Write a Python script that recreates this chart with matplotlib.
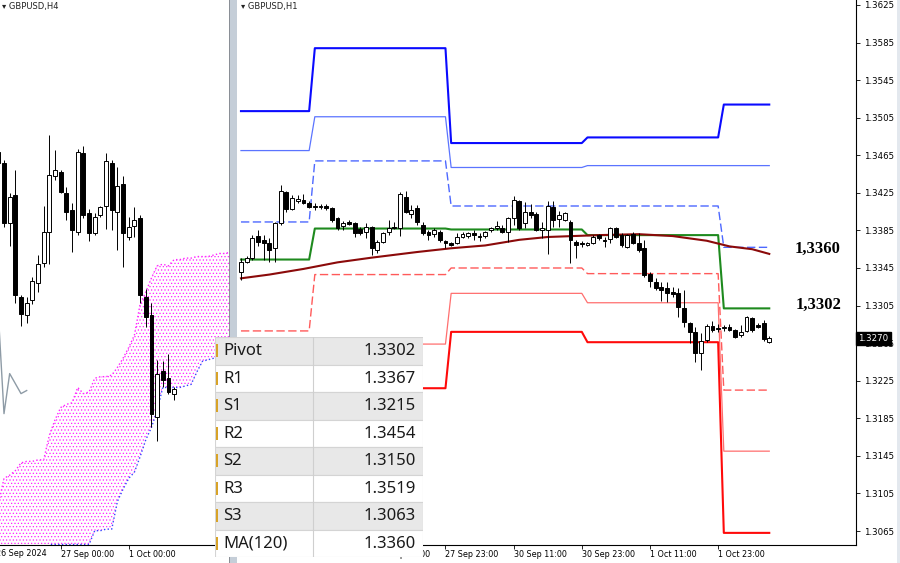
import numpy as np
import matplotlib.pyplot as plt
from matplotlib.patches import Rectangle
from matplotlib.transforms import blended_transform_factory

W, H = 900, 563

# ---- GBPUSD H1: one bar per hour, 26 Sep 11:00 .. 2 Oct 08:00
h1_open = [1.3341, 1.3351, 1.3356, 1.3379, 1.3375, 1.3372, 1.3366, 1.3393, 1.3426, 1.3408,
           1.3416, 1.3417, 1.3414, 1.3411, 1.3410, 1.3411, 1.3409, 1.3398, 1.3390, 1.3394,
           1.3393, 1.3387, 1.3383, 1.3389, 1.3364, 1.3373, 1.3383, 1.3389, 1.3388, 1.3421,
           1.3402, 1.3409, 1.3391, 1.3383, 1.3381, 1.3383, 1.3374, 1.3372, 1.3372, 1.3378,
           1.3379, 1.3382, 1.3379, 1.3379, 1.3385, 1.3388, 1.3388, 1.3383, 1.3398, 1.3416,
           1.3393, 1.3405, 1.3402, 1.3385, 1.3385, 1.3410, 1.3397, 1.3396, 1.3394, 1.3373,
           1.3372, 1.3369, 1.3372, 1.3380, 1.3375, 1.3376, 1.3388, 1.3380, 1.3367, 1.3381,
           1.3372, 1.3366, 1.3339, 1.3330, 1.3325, 1.3324, 1.3319, 1.3318, 1.3302, 1.3286,
           1.3277, 1.3255, 1.3268, 1.3283, 1.3281, 1.3281, 1.3282, 1.3279, 1.3274, 1.3278,
           1.3292, 1.3284, 1.3286, 1.3266]
h1_high = [1.3356, 1.3358, 1.3380, 1.3385, 1.3380, 1.3377, 1.3394, 1.3433, 1.3427, 1.3423,
           1.3423, 1.3424, 1.3416, 1.3414, 1.3413, 1.3413, 1.3410, 1.3399, 1.3395, 1.3396,
           1.3394, 1.3389, 1.3393, 1.3390, 1.3375, 1.3383, 1.3396, 1.3394, 1.3426, 1.3427,
           1.3412, 1.3412, 1.3394, 1.3385, 1.3388, 1.3385, 1.3375, 1.3373, 1.3382, 1.3383,
           1.3383, 1.3385, 1.3382, 1.3384, 1.3389, 1.3395, 1.3391, 1.3399, 1.3422, 1.3417,
           1.3415, 1.3413, 1.3405, 1.3394, 1.3416, 1.3416, 1.3406, 1.3405, 1.3396, 1.3375,
           1.3374, 1.3373, 1.3380, 1.3381, 1.3378, 1.3389, 1.3389, 1.3382, 1.3381, 1.3383,
           1.3382, 1.3375, 1.3341, 1.3334, 1.3330, 1.3330, 1.3325, 1.3324, 1.3322, 1.3287,
           1.3282, 1.3276, 1.3285, 1.3289, 1.3285, 1.3284, 1.3285, 1.3280, 1.3284, 1.3294,
           1.3293, 1.3286, 1.3290, 1.3273]
h1_low = [1.3332, 1.3350, 1.3354, 1.3368, 1.3354, 1.3351, 1.3351, 1.3391, 1.3405, 1.3407,
          1.3414, 1.3413, 1.3409, 1.3407, 1.3408, 1.3407, 1.3394, 1.3385, 1.3385, 1.3391,
          1.3378, 1.3380, 1.3377, 1.3359, 1.3361, 1.3372, 1.3380, 1.3387, 1.3379, 1.3404,
          1.3398, 1.3391, 1.3380, 1.3375, 1.3378, 1.3373, 1.3366, 1.3368, 1.3371, 1.3377,
          1.3377, 1.3375, 1.3374, 1.3377, 1.3383, 1.3385, 1.3382, 1.3373, 1.3391, 1.3385,
          1.3388, 1.3398, 1.3384, 1.3377, 1.3360, 1.3389, 1.3389, 1.3395, 1.3350, 1.3356,
          1.3367, 1.3368, 1.3371, 1.3375, 1.3367, 1.3372, 1.3377, 1.3367, 1.3366, 1.3371,
          1.3362, 1.3335, 1.3325, 1.3322, 1.3310, 1.3309, 1.3314, 1.3293, 1.3282, 1.3265,
          1.3245, 1.3236, 1.3266, 1.3277, 1.3277, 1.3278, 1.3278, 1.3270, 1.3272, 1.3277,
          1.3277, 1.3281, 1.3267, 1.3265]
h1_close = [1.3351, 1.3356, 1.3377, 1.3373, 1.3372, 1.3364, 1.3393, 1.3427, 1.3408, 1.3420,
            1.3418, 1.3414, 1.3410, 1.3410, 1.3411, 1.3409, 1.3396, 1.3388, 1.3393, 1.3392,
            1.3382, 1.3382, 1.3389, 1.3366, 1.3373, 1.3382, 1.3388, 1.3388, 1.3424, 1.3405,
            1.3407, 1.3394, 1.3382, 1.3380, 1.3385, 1.3375, 1.3372, 1.3369, 1.3378, 1.3381,
            1.3382, 1.3380, 1.3378, 1.3383, 1.3388, 1.3390, 1.3383, 1.3398, 1.3417, 1.3388,
            1.3405, 1.3401, 1.3385, 1.3388, 1.3411, 1.3396, 1.3401, 1.3404, 1.3375, 1.3369,
            1.3371, 1.3372, 1.3378, 1.3377, 1.3374, 1.3388, 1.3378, 1.3369, 1.3380, 1.3372,
            1.3364, 1.3338, 1.3331, 1.3324, 1.3322, 1.3318, 1.3317, 1.3303, 1.3287, 1.3277,
            1.3255, 1.3267, 1.3283, 1.3279, 1.3280, 1.3282, 1.3279, 1.3272, 1.3277, 1.3293,
            1.3279, 1.3282, 1.3269, 1.3270]
h1_tick_bars = [24, 36, 48, 60, 72, 84]
h1_tick_labels = ['27 Sep 11:00', '27 Sep 23:00', '30 Sep 11:00', '30 Sep 23:00',
                  '1 Oct 11:00', '1 Oct 23:00']

# daily pivot levels (bar index where each day starts)
day_start = [0, 13, 37, 61, 85]
piv_r3 = [1.3512, 1.3579, 1.3478, 1.3484, 1.3519]
piv_r2 = [1.3470, 1.3506, 1.3452, 1.3454, 1.3454]
piv_r1 = [1.3394, 1.3459, 1.3411, 1.3411, 1.3367]
piv_pp = [1.3354, 1.3387, 1.3386, 1.3380, 1.3302]
piv_s1 = [1.3278, 1.3338, 1.3345, 1.3339, 1.3215]
piv_s2 = [1.3205, 1.3264, 1.3318, 1.3308, 1.3150]
piv_s3 = [1.3157, 1.3217, 1.3277, 1.3266, 1.3063]

ma_bars = [0, 5, 11, 17, 23, 31, 37, 43, 49, 54, 63, 70, 76, 82, 86, 90, 93]
ma_vals = [1.3334, 1.3338, 1.3344, 1.3351, 1.3356, 1.3362, 1.3366, 1.3369, 1.3375,
           1.3378, 1.3380, 1.3381, 1.3379, 1.3374, 1.3368, 1.3365, 1.3360]

price_ticks = [1.3625, 1.3585, 1.3545, 1.3505, 1.3465, 1.3425, 1.3385, 1.3345,
               1.3305, 1.3265, 1.3225, 1.3185, 1.3145, 1.3105, 1.3065]
last_price = 1.3270

# ---- GBPUSD H4 (left window)
h4_open = [1.3424, 1.3417, 1.3378, 1.3396, 1.3330, 1.3318, 1.3328, 1.3339, 1.3352, 1.3372,
           1.3408, 1.3411, 1.3397, 1.3386, 1.3372, 1.3423, 1.3384, 1.3371, 1.3383, 1.3389,
           1.3417, 1.3385, 1.3403, 1.3369, 1.3376, 1.3381, 1.3330, 1.3318, 1.3252, 1.3282,
           1.3277, 1.3267]
h4_high = [1.3425, 1.3419, 1.3397, 1.3412, 1.3331, 1.3330, 1.3343, 1.3357, 1.3389, 1.3435,
           1.3425, 1.3412, 1.3401, 1.3391, 1.3426, 1.3428, 1.3387, 1.3384, 1.3389, 1.3423,
           1.3419, 1.3414, 1.3408, 1.3382, 1.3388, 1.3383, 1.3335, 1.3326, 1.3289, 1.3288,
           1.3293, 1.3271]
h4_low = [1.3414, 1.3375, 1.3363, 1.3326, 1.3311, 1.3313, 1.3325, 1.3333, 1.3349, 1.3351,
          1.3406, 1.3397, 1.3380, 1.3359, 1.3370, 1.3381, 1.3366, 1.3370, 1.3382, 1.3374,
          1.3373, 1.3360, 1.3349, 1.3367, 1.3369, 1.3326, 1.3310, 1.3245, 1.3236, 1.3271,
          1.3267, 1.3263]
h4_close = [1.3417, 1.3378, 1.3395, 1.3331, 1.3319, 1.3326, 1.3340, 1.3351, 1.3372, 1.3409,
            1.3412, 1.3398, 1.3385, 1.3373, 1.3424, 1.3383, 1.3371, 1.3382, 1.3388, 1.3418,
            1.3386, 1.3402, 1.3371, 1.3375, 1.3380, 1.3331, 1.3317, 1.3254, 1.3280, 1.3276,
            1.3268, 1.3270]
cloud_upper = [1.3195, 1.3212, 1.3214, 1.3217, 1.3222, 1.3223, 1.3223, 1.3224, 1.3224, 1.3240,
               1.3250, 1.3258, 1.3260, 1.3261, 1.3271, 1.3267, 1.3268, 1.3277, 1.3278, 1.3278,
               1.3279, 1.3284, 1.3290, 1.3297, 1.3305, 1.3325, 1.3333, 1.3342, 1.3350, 1.3351,
               1.3350, 1.3354, 1.3354, 1.3355, 1.3355, 1.3356, 1.3356, 1.3356, 1.3357, 1.3358,
               1.3358, 1.3359]
cloud_lower = [1.3159, 1.3159, 1.3159, 1.3159, 1.3159, 1.3159, 1.3159, 1.3159, 1.3159, 1.3169,
               1.3169, 1.3169, 1.3169, 1.3169, 1.3169, 1.3169, 1.3169, 1.3178, 1.3178, 1.3179,
               1.3179, 1.3197, 1.3205, 1.3212, 1.3216, 1.3226, 1.3237, 1.3245, 1.3256, 1.3271,
               1.3271, 1.3271, 1.3271, 1.3272, 1.3273, 1.3281, 1.3288, 1.3289, 1.3290, 1.3291,
               1.3291, 1.3291]
chikou_bars = [0, 1, 2, 4, 5]
chikou_vals = [1.3319, 1.3254, 1.3280, 1.3267, 1.3269]
h4_tick_bars = [11, 23]
h4_tick_labels = ['27 Sep 00:00', '1 Oct 00:00']

# ---- levels table
level_names = ['Pivot', 'R1', 'S1', 'R2', 'S2', 'R3', 'S3', 'MA(120)']
level_values = [1.3302, 1.3367, 1.3215, 1.3454, 1.3150, 1.3519, 1.3063, 1.3360]


def fx(x):
    return x / W


def fy(y):
    return 1 - y / H


def candles(ax, o, h, l, c, width=0.68, lw=0.7):
    o, h, l, c = (np.asarray(a) for a in (o, h, l, c))
    x = np.arange(len(o))
    ax.vlines(x, l, h, color='black', lw=lw, zorder=3)
    up = c >= o
    bottom = np.minimum(o, c)
    height = np.maximum(np.abs(c - o), 0.00002)
    ax.bar(x[up], height[up], width, bottom[up], facecolor='white',
           edgecolor='black', lw=lw, zorder=4)
    ax.bar(x[~up], height[~up], width, bottom[~up], facecolor='black',
           edgecolor='black', lw=lw, zorder=4)


plt.rcParams['hatch.linewidth'] = 0.5

fig = plt.figure(figsize=(9, 5.63), dpi=100)
fig.patch.set_facecolor('white')

# ================= right window: H1 =================
axr = fig.add_axes([fx(237), fy(545), fx(856) - fx(237), 545 / H])
axr.set_xlim(-0.7, 108.27)
axr.set_ylim(1.30501, 1.36303)

candles(axr, h1_open, h1_high, h1_low, h1_close)

bars = np.arange(len(h1_open))
day_len = np.diff(day_start + [len(h1_open)])
levels = [
    (piv_r3, '#0a0aff', 1.5, '-'),
    (piv_r2, '#5b74ff', 0.9, '-'),
    (piv_r1, '#4d68ff', 1.0, '--'),
    (piv_pp, '#1e8a1e', 1.5, '-'),
    (piv_s1, '#ff5a5a', 1.0, '--'),
    (piv_s2, '#ff6f6f', 0.9, '-'),
    (piv_s3, '#ff0a0a', 1.5, '-'),
]
for vals, col, lw, ls in levels:
    line, = axr.plot(bars, np.repeat(vals, day_len), color=col, lw=lw, ls=ls, zorder=2)
    if ls == '--':
        line.set_dashes((6, 2.5))

axr.plot(ma_bars, ma_vals, color='#8b0a0a', lw=1.5, zorder=2.5)

axr.text(97.5, ma_vals[-1] + 0.0005, f'{level_values[-1]:.4f}'.replace('.', ','),
         fontfamily='Liberation Serif', fontweight='bold', fontsize=12,
         ha='left', va='center')
axr.text(97.7, piv_pp[-1] + 0.0004, f'{level_values[0]:.4f}'.replace('.', ','),
         fontfamily='Liberation Serif', fontweight='bold', fontsize=12,
         ha='left', va='center')

axr.yaxis.tick_right()
axr.set_yticks(price_ticks, [f'{p:.4f}' for p in price_ticks])
axr.tick_params(axis='y', labelsize=6.2, length=3, width=0.6, pad=3, colors='black')
axr.set_xticks(h1_tick_bars, h1_tick_labels, ha='left')
axr.tick_params(axis='x', labelsize=5.8, length=3, width=0.6, pad=0.8)
for s in ('top', 'left'):
    axr.spines[s].set_visible(False)
for s in ('right', 'bottom'):
    axr.spines[s].set_linewidth(0.8)

trans_r = blended_transform_factory(axr.transAxes, axr.transData)
axr.text(1.004, last_price, f'{last_price:.4f}', transform=trans_r, fontsize=6.2,
         color='white', ha='left', va='center', zorder=10, clip_on=False,
         bbox=dict(boxstyle='square,pad=0.25', facecolor='black', edgecolor='black'))

# ================= left window: H4 =================
axl = fig.add_axes([0, fy(545), fx(229), 545 / H])
axl.set_xlim(0.295, 40.68)
axl.set_ylim(1.31687, 1.35226)

ci = np.arange(len(cloud_upper))
axl.fill_between(ci, cloud_lower, cloud_upper, facecolor='none', edgecolor='#ff22ff',
                 hatch='.....', lw=0, zorder=1)
axl.plot(ci, cloud_upper, color='#ff22ff', lw=1, ls=':', zorder=1.5)
axl.plot(ci, cloud_lower, color='#3344ff', lw=1, ls=':', zorder=1.5)
axl.plot(chikou_bars, chikou_vals, color='#8e9ba6', lw=1, zorder=2)
candles(axl, h4_open, h4_high, h4_low, h4_close)

axl.set_yticks([])
axl.set_xticks(h4_tick_bars, h4_tick_labels, ha='left')
axl.tick_params(axis='x', labelsize=5.8, length=3, width=0.6, pad=0.8)
for s in ('top', 'left', 'right'):
    axl.spines[s].set_visible(False)
axl.spines['bottom'].set_linewidth(0.8)
trans_l = blended_transform_factory(axl.transData, axl.transAxes)
axl.text(-0.41, -0.0155, '26 Sep 2024', transform=trans_l, fontsize=5.8,
         ha='left', va='center', clip_on=False)

# window titles
fig.text(fx(2), fy(7), '\u25be GBPUSD,H4', fontsize=6, va='center', color='#222222')
fig.text(fx(241), fy(7), '\u25be GBPUSD,H1', fontsize=6, va='center', color='#222222')

# divider between windows and right frame
fig.add_artist(Rectangle((fx(229), 0), fx(8), 1, transform=fig.transFigure,
                         facecolor='#c5ced8', edgecolor='none', zorder=1))
fig.add_artist(Rectangle((fx(229), 0), fx(1), 1, transform=fig.transFigure,
                         facecolor='#8a8f96', edgecolor='none', zorder=1))
fig.add_artist(Rectangle((fx(897), 0), fx(3), 1, transform=fig.transFigure,
                         facecolor='#e3e8ee', edgecolor='none', zorder=1))

# ================= levels table =================
axt = fig.add_axes([fx(215), fy(557), fx(423) - fx(215), 220 / H], zorder=10)
axt.set_xlim(0, 208)
axt.set_ylim(len(level_names), 0)
axt.axis('off')
for k, (name, val) in enumerate(zip(level_names, level_values)):
    shade = '#e8e8e8' if k % 2 == 0 else 'white'
    axt.add_patch(Rectangle((0, k), 208, 1, facecolor=shade, edgecolor='#d4d4d4', lw=0.8))
    axt.add_patch(Rectangle((1.2, k + 0.27), 2.2, 0.46, facecolor='#d8a328', lw=0))
    axt.text(8, k + 0.52, name, fontfamily='Noto Sans', fontsize=12, va='center', ha='left',
             color='#1a1a1a')
    axt.text(201, k + 0.52, f'{val:.4f}', fontfamily='Noto Sans', fontsize=12, va='center',
             ha='right', color='#1a1a1a')
axt.plot([98, 98], [0, len(level_names)], color='#cfcfcf', lw=0.8)

fig.savefig('out.png', dpi=100)
